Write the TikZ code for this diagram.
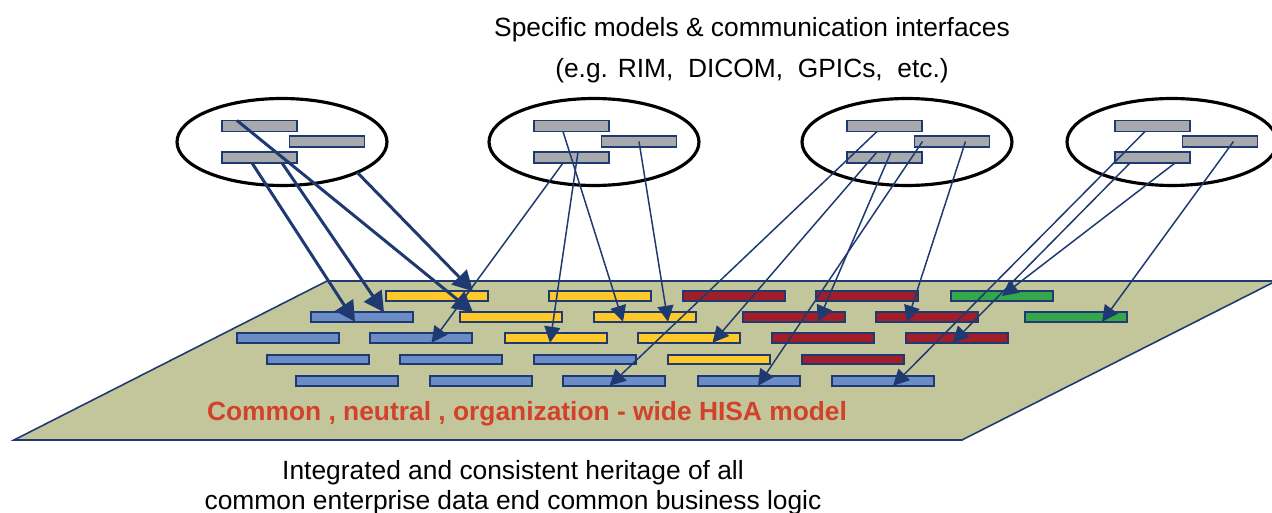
\documentclass[tikz,border=0pt]{standalone}
\usepackage{fontspec}
\setmainfont{Liberation Sans}
\usepackage{tikz}
\usepackage{xcolor}
\usetikzlibrary{arrows.meta}
\usetikzlibrary{shapes}
\usetikzlibrary{calc}

\definecolor{navy}{HTML}{1F3A70}
\definecolor{plane}{HTML}{C3C69B}
\definecolor{barY}{HTML}{FFC928}
\definecolor{barR}{HTML}{A11D2A}
\definecolor{barG}{HTML}{34A74B}
\definecolor{barB}{HTML}{6C8CC8}
\definecolor{barGr}{HTML}{A7A9AC}
\definecolor{hisaRed}{HTML}{D1412B}

\begin{document}
\begin{tikzpicture}
[
x=0.02cm, y=-0.02cm,
every node/.style={
	inner sep=0pt,
	outer sep=0pt},
bar/.style={
	draw=navy,
	line width=0.9pt,
	rectangle,
	minimum width=2.04cm,
	minimum height=0.19cm},
yBar/.style={bar, fill=barY},
rBar/.style={bar, fill=barR},
gBar/.style={bar, fill=barG},
bBar/.style={bar, fill=barB},
greyBar/.style={
	bar,
	fill=barGr,
	minimum width=1.5cm,
	minimum height=0.22cm},
model/.style={
	draw=black,
	line width=1.8pt,
	ellipse,
	minimum width=4.2cm,
	minimum height=1.74cm},
bigArr/.style={
	->,
	>={Triangle[length=0.4cm,width=0.42cm]},
	line width=1.7pt,
	draw=navy},
thinArr/.style={
	->,
	>={Triangle[length=0.32cm,width=0.32cm]},
	line width=0.85pt,
	draw=navy},
txt/.style={
	font=\fontsize{15}{18}\selectfont,
	align=center}
]
\useasboundingbox (0,0) rectangle (1272,513);

%common plane
\draw [draw=navy, line width=0.9pt, fill=plane] (14,440) -- (327,281) -- (1276,281) -- (962,440) -- cycle;

%row 1
\node[yBar] (y11) at (437,296) {};
\node[yBar] (y12) at (600,296) {};
\node[rBar] (r13) at (734,296) {};
\node[rBar] (r14) at (867,296) {};
\node[gBar] (g15) at (1002,296) {};

%row 2
\node[bBar] (b21) at (362,317) {};
\node[yBar] (y22) at (511,317) {};
\node[yBar] (y23) at (645,317) {};
\node[rBar] (r24) at (794,317) {};
\node[rBar] (r25) at (927,317) {};
\node[gBar] (g26) at (1076,317) {};

%row 3
\node[bBar] (b31) at (288,338) {};
\node[bBar] (b32) at (421,338) {};
\node[yBar] (y33) at (556,338) {};
\node[yBar] (y34) at (689,338) {};
\node[rBar] (r35) at (823,338) {};
\node[rBar] (r36) at (957,338) {};

%row 4
\node[bBar] (b41) at (318,359.5) {};
\node[bBar] (b42) at (451,359.5) {};
\node[bBar] (b43) at (585,359.5) {};
\node[yBar] (y44) at (719,359.5) {};
\node[rBar] (r45) at (853,359.5) {};

%row 5
\node[bBar] (b51) at (347,381) {};
\node[bBar] (b52) at (481,381) {};
\node[bBar] (b53) at (614,381) {};
\node[bBar] (b54) at (749,381) {};
\node[bBar] (b55) at (883,381) {};

\node[txt, font=\bfseries\fontsize{15}{18}\selectfont, text=hisaRed] (hisa) at (527,414) {Common , neutral , organization - wide HISA model};

%specific models
\foreach \n/\cx/\ex in {1/282/282,2/594/594,3/907/907,4/1175/1172}
{
\node[model] (e\n) at (\ex,142) {};
\node[greyBar] (t\n) at (\cx-22.5,126) {};
\node[greyBar] (m\n) at (\cx+45,141.5) {};
\node[greyBar] (b\n) at (\cx-22.5,157.5) {};
}

%model 1
\draw [bigArr] ($(t1.north)+(-22.5,0)$) -- ($(y22.north)+(-38,0)$);
\draw [bigArr] ($(b1.south)+(-7.5,0)$) -- ($(b21.south)+(-7,0)$);
\draw [bigArr] ($(b1.south)+(22.5,0)$) -- ($(b21.north)+(22,0)$);
\draw [bigArr] (e1.-22) -- ($(y11.north)+(36,0)$);

%model 2
\draw [thinArr] ($(b2.south)+(-8.5,0)$) -- ($(b32.south)+(10.5,0)$);
\draw [thinArr] ($(t2.south)+(-8.5,0)$) -- ($(y23.south)+(-22,0)$);
\draw [thinArr] ($(b2.north)+(6.5,0)$) -- ($(y33.south)+(-6,0)$);
\draw [thinArr] (m2.center) -- ($(y23.south)+(23,0)$);

%model 3
\draw [thinArr] ($(t3.south)+(-7.5,0)$) -- ($(b53.south)+(-4.5,0)$);
\draw [thinArr] ($(b3.north)+(-7.5,0)$) -- ($(y34.south)+(23.5,0)$);
\draw [thinArr] ($(b3.north)+(6.5,0)$) -- ($(r24.south)+(24,0)$);
\draw [thinArr] ($(m3.west)+(8,0)$) -- ($(b54.south)+(9,0)$);
\draw [thinArr] ($(m3.center)+(13.5,0)$) -- ($(r25.south)+(-20,0)$);

%model 4
\draw [thinArr] ($(t4.south)+(-7.5,0)$) -- ($(b55.south)+(10,0)$);
\draw [thinArr] ($(b4.south)+(-22.5,0)$) -- ($(r36.south)+(-4.5,0)$);
\draw [thinArr] ($(b4.south)+(22.5,0)$) -- (g15.center);
\draw [thinArr] ($(m4.center)+(13.5,0)$) -- ($(g26.south)+(26,0)$);

%texts
\node[txt] (spec) at (752,50) {Specific models \& communication interfaces\\[5pt](e.g. RIM,~ DICOM,~ GPICs,~ etc.)};
\node[txt, font=\fontsize{15}{17}\selectfont] (heritage) at (513,488) {Integrated and consistent heritage of all\\common enterprise data end common business logic};

\end{tikzpicture}
\end{document}
